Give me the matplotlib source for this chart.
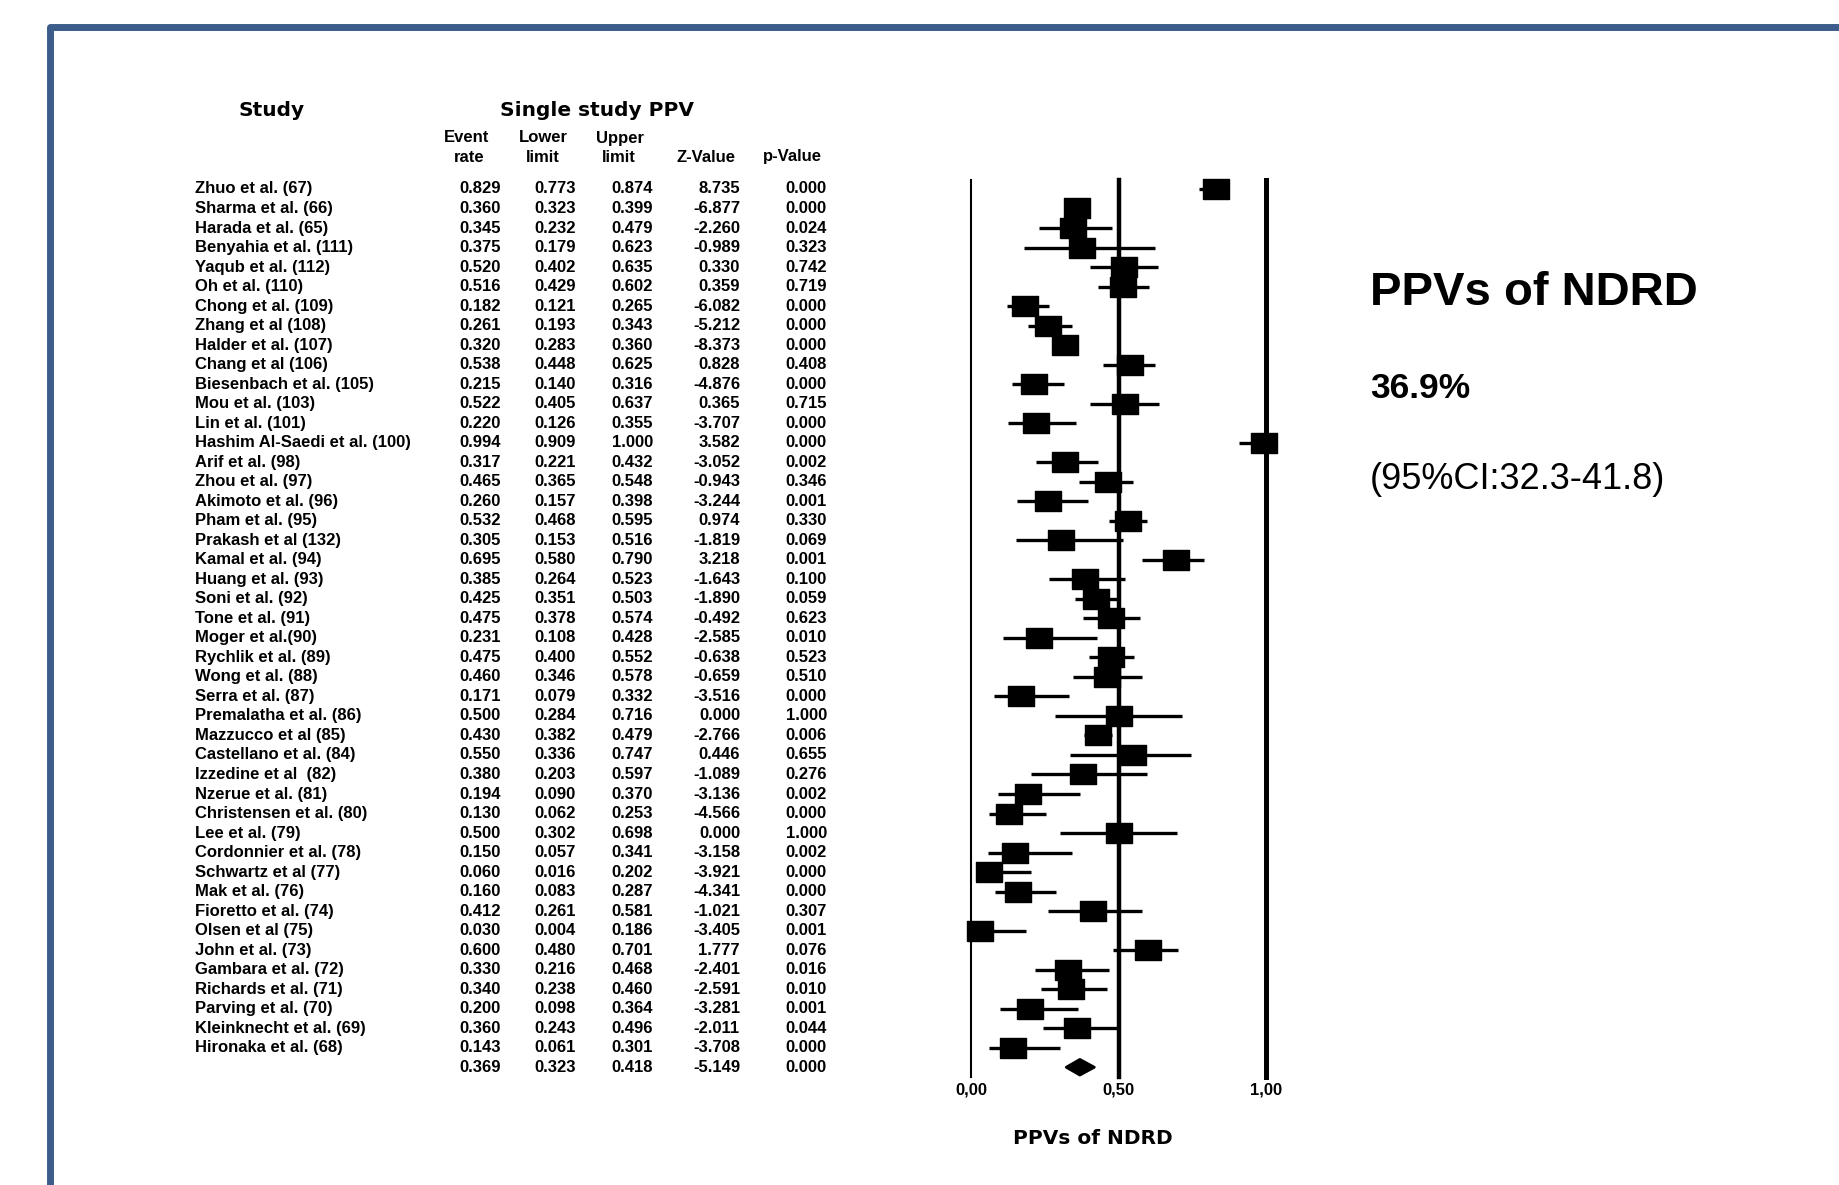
import matplotlib
matplotlib.use('Agg')
import matplotlib.pyplot as plt
from matplotlib.lines import Line2D
from matplotlib.patches import Polygon
from matplotlib.transforms import blended_transform_factory

plt.rcParams['font.family'] = ['Liberation Sans', 'DejaVu Sans']

studies = [
    'Zhuo et al. (67)', 'Sharma et al. (66)', 'Harada et al. (65)', 'Benyahia et al. (111)',
    'Yaqub et al. (112)', 'Oh et al. (110)', 'Chong et al. (109)', 'Zhang et al (108)',
    'Halder et al. (107)', 'Chang et al (106)', 'Biesenbach et al. (105)', 'Mou et al. (103)',
    'Lin et al. (101)', 'Hashim Al-Saedi et al. (100)', 'Arif et al. (98)', 'Zhou et al. (97)',
    'Akimoto et al. (96)', 'Pham et al. (95)', 'Prakash et al (132)', 'Kamal et al. (94)',
    'Huang et al. (93)', 'Soni et al. (92)', 'Tone et al. (91)', 'Moger et al.(90)',
    'Rychlik et al. (89)', 'Wong et al. (88)', 'Serra et al. (87)', 'Premalatha et al. (86)',
    'Mazzucco et al (85)', 'Castellano et al. (84)', 'Izzedine et al  (82)', 'Nzerue et al. (81)',
    'Christensen et al. (80)', 'Lee et al. (79)', 'Cordonnier et al. (78)', 'Schwartz et al (77)',
    'Mak et al. (76)', 'Fioretto et al. (74)', 'Olsen et al (75)', 'John et al. (73)',
    'Gambara et al. (72)', 'Richards et al. (71)', 'Parving et al. (70)', 'Kleinknecht et al. (69)',
    'Hironaka et al. (68)',
]
event_rate = [0.829, 0.360, 0.345, 0.375, 0.520, 0.516, 0.182, 0.261, 0.320, 0.538, 0.215, 0.522,
              0.220, 0.994, 0.317, 0.465, 0.260, 0.532, 0.305, 0.695, 0.385, 0.425, 0.475, 0.231,
              0.475, 0.460, 0.171, 0.500, 0.430, 0.550, 0.380, 0.194, 0.130, 0.500, 0.150, 0.060,
              0.160, 0.412, 0.030, 0.600, 0.330, 0.340, 0.200, 0.360, 0.143]
lower = [0.773, 0.323, 0.232, 0.179, 0.402, 0.429, 0.121, 0.193, 0.283, 0.448, 0.140, 0.405,
         0.126, 0.909, 0.221, 0.365, 0.157, 0.468, 0.153, 0.580, 0.264, 0.351, 0.378, 0.108,
         0.400, 0.346, 0.079, 0.284, 0.382, 0.336, 0.203, 0.090, 0.062, 0.302, 0.057, 0.016,
         0.083, 0.261, 0.004, 0.480, 0.216, 0.238, 0.098, 0.243, 0.061]
upper = [0.874, 0.399, 0.479, 0.623, 0.635, 0.602, 0.265, 0.343, 0.360, 0.625, 0.316, 0.637,
         0.355, 1.000, 0.432, 0.548, 0.398, 0.595, 0.516, 0.790, 0.523, 0.503, 0.574, 0.428,
         0.552, 0.578, 0.332, 0.716, 0.479, 0.747, 0.597, 0.370, 0.253, 0.698, 0.341, 0.202,
         0.287, 0.581, 0.186, 0.701, 0.468, 0.460, 0.364, 0.496, 0.301]
z_value = [8.735, -6.877, -2.260, -0.989, 0.330, 0.359, -6.082, -5.212, -8.373, 0.828, -4.876, 0.365,
           -3.707, 3.582, -3.052, -0.943, -3.244, 0.974, -1.819, 3.218, -1.643, -1.890, -0.492, -2.585,
           -0.638, -0.659, -3.516, 0.000, -2.766, 0.446, -1.089, -3.136, -4.566, 0.000, -3.158, -3.921,
           -4.341, -1.021, -3.405, 1.777, -2.401, -2.591, -3.281, -2.011, -3.708]
p_value = [0.000, 0.000, 0.024, 0.323, 0.742, 0.719, 0.000, 0.000, 0.000, 0.408, 0.000, 0.715,
           0.000, 0.000, 0.002, 0.346, 0.001, 0.330, 0.069, 0.001, 0.100, 0.059, 0.623, 0.010,
           0.523, 0.510, 0.000, 1.000, 0.006, 0.655, 0.276, 0.002, 0.000, 1.000, 0.002, 0.000,
           0.000, 0.307, 0.001, 0.076, 0.016, 0.010, 0.001, 0.044, 0.000]

pooled_rate = 0.369
pooled_lower = 0.323
pooled_upper = 0.418
pooled_z = -5.149
pooled_p = 0.000

tick_values = [0.0, 0.5, 1.0]
tick_labels = ['0,00', '0,50', '1,00']

W, H = 1839, 1185
fig = plt.figure(figsize=(W / 100, H / 100), dpi=100)

def fx(px):
    return px / W

def fy(py):
    return 1 - py / H

# forest panel: x 0 -> 971px, 1 -> 1266px ; lines from 180px to 1077px
ax = fig.add_axes([fx(971), fy(1077), fx(1266) - fx(971), fy(180) - fy(1077)])
n = len(studies)
rows = list(range(1, n + 1))
summary_row = n + 1
ax.set_xlim(0, 1)
ax.set_ylim(summary_row + 0.5, 0.54)
for s in ax.spines.values():
    s.set_visible(False)
ax.set_yticks([])
ax.set_xticks(tick_values)
ax.set_xticklabels(tick_labels, fontsize=12, fontweight='bold')
ax.tick_params(axis='x', length=0, pad=4)

ax.axvline(0.0, color='black', lw=1.5, clip_on=False)
ax.axvline(0.5, color='black', lw=3.2, clip_on=False)
ax.axvline(1.0, color='black', lw=3.6, clip_on=False)

ax.hlines(rows, lower, upper, color='black', lw=2.4, clip_on=False)
rect = [(-1, -0.75), (1, -0.75), (1, 0.75), (-1, 0.75), (-1, -0.75)]
ax.plot(event_rate, rows, ls='none', marker=rect, ms=19, color='black', clip_on=False)

dh = 0.4
diamond = Polygon([(pooled_lower, summary_row), (pooled_rate, summary_row - dh),
                   (pooled_upper, summary_row), (pooled_rate, summary_row + dh)],
                  closed=True, fc='black', ec='black', lw=2, joinstyle='round', clip_on=False)
ax.add_patch(diamond)

# table text
tr = blended_transform_factory(fig.transFigure, ax.transData)
tfont = dict(fontsize=12, fontweight='bold', va='center')
col_right = [fx(501), fx(576), fx(653), fx(740), fx(827)]
for i, name in enumerate(studies):
    r = rows[i]
    fig.text(fx(195), r, name, transform=tr, ha='left', **tfont)
    vals = [event_rate[i], lower[i], upper[i], z_value[i], p_value[i]]
    for x, v in zip(col_right, vals):
        fig.text(x, r, '%.3f' % v, transform=tr, ha='right', **tfont)
for x, v in zip(col_right, [pooled_rate, pooled_lower, pooled_upper, pooled_z, pooled_p]):
    fig.text(x, summary_row, '%.3f' % v, transform=tr, ha='right', **tfont)

# headers
hfont = dict(fontsize=14.5, fontweight='bold', family='DejaVu Sans', va='center', ha='center')
fig.text(fx(272), fy(110), 'Study', **hfont)
fig.text(fx(597), fy(110), 'Single study PPV', **hfont)
sfont = dict(fontsize=12, fontweight='bold', va='center', ha='center')
fig.text(fx(467), fy(138), 'Event', **sfont)
fig.text(fx(469), fy(157), 'rate', **sfont)
fig.text(fx(543), fy(138), 'Lower', **sfont)
fig.text(fx(543), fy(157), 'limit', **sfont)
fig.text(fx(620), fy(138), 'Upper', **sfont)
fig.text(fx(619), fy(157), 'limit', **sfont)
fig.text(fx(706), fy(157), 'Z-Value', **sfont)
fig.text(fx(792), fy(157), 'p-Value', **sfont)

fig.text(fx(1093), fy(1139), 'PPVs of NDRD', fontsize=14.5, fontweight='bold',
         family='DejaVu Sans', ha='center', va='center')

# summary text on the right
fig.text(fx(1370), fy(293), 'PPVs of NDRD', fontsize=34, fontweight='bold', ha='left', va='center')
fig.text(fx(1370), fy(388), '%.1f%%' % (pooled_rate * 100), fontsize=25.5, fontweight='bold',
         ha='left', va='center')
fig.text(fx(1370), fy(480), '(95%%CI:%.1f-%.1f)' % (pooled_lower * 100, pooled_upper * 100),
         fontsize=26, ha='left', va='center')

# frame
fig.add_artist(Line2D([fx(50), fx(50), 1.01], [-0.01, fy(26.5), fy(26.5)],
                      transform=fig.transFigure, color='#3c5d8b', lw=5,
                      solid_joinstyle='round', clip_on=False))

fig.savefig('out.png', dpi=100)
